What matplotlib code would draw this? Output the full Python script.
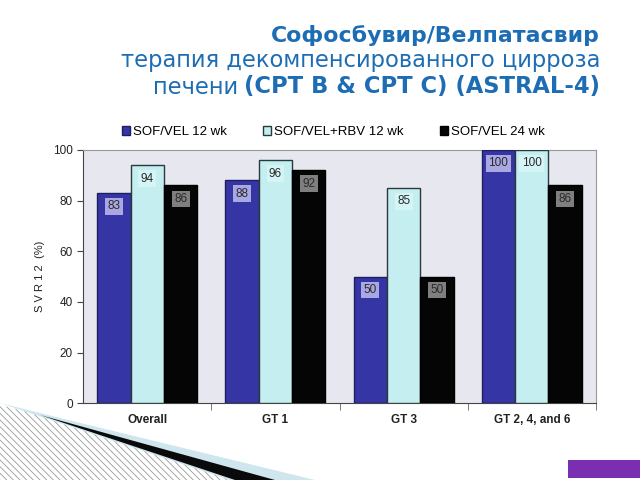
import matplotlib
matplotlib.use("Agg")
import matplotlib.pyplot as plt
import numpy as np
from matplotlib.patches import Polygon, Rectangle

categories = ["Overall", "GT 1", "GT 3", "GT 2, 4, and 6"]
series_names = ["SOF/VEL 12 wk", "SOF/VEL+RBV 12 wk", "SOF/VEL 24 wk"]
sof_vel_12 = [83, 88, 50, 100]
sof_vel_rbv_12 = [94, 96, 85, 100]
sof_vel_24 = [86, 92, 50, 86]
yticks = [0, 20, 40, 60, 80, 100]

series = [sof_vel_12, sof_vel_rbv_12, sof_vel_24]
colors = ["#3535a5", "#c4eef0", "#050505"]
edges = ["#1e1e60", "#2a3a3a", "#000000"]
box_colors = ["#aaa8e2", "#d4f4f5", "#7f7f7f"]

fig = plt.figure(figsize=(6.4, 4.8), dpi=100)

def fy(py):
    return 1 - py / 480.0

def fx(px):
    return px / 640.0

# decorations
plt.rcParams["hatch.color"] = "#9a9a9a"
plt.rcParams["hatch.linewidth"] = 0.6
fig.patches.append(Polygon([[fx(0), fy(405)], [fx(60), fy(420)], [fx(240), fy(480)], [fx(0), fy(480)]],
                           closed=True, transform=fig.transFigure, facecolor="white",
                           edgecolor="#9a9a9a", linewidth=0, hatch="\\\\\\\\\\", zorder=0))
fig.patches.append(Polygon([[fx(0), fy(403)], [fx(60), fy(418)], [fx(315), fy(480)], [fx(230), fy(480)]],
                           closed=True, transform=fig.transFigure, facecolor="#cfe6ee",
                           edgecolor="none", zorder=1))
fig.patches.append(Polygon([[fx(40), fy(415)], [fx(275), fy(480)], [fx(235), fy(480)]],
                           closed=True, transform=fig.transFigure, facecolor="#0a0a0a",
                           edgecolor="none", zorder=2))
fig.patches.append(Rectangle((fx(568), fy(478)), fx(72), 18 / 480.0, transform=fig.transFigure,
                             facecolor="#7a2fb0", edgecolor="none", zorder=2))

ax = fig.add_axes([0.130, 0.160, 0.801, 0.5275])
ax.set_facecolor("#e7e8ef")

x = np.arange(len(categories))
w = 0.26
for i, (vals, c, ec, bc) in enumerate(zip(series, colors, edges, box_colors)):
    pos = x + (i - 1) * w
    ax.bar(pos, vals, width=w, color=c, edgecolor=ec, linewidth=1.0,
           label=series_names[i], zorder=3)
    for p, v in zip(pos, vals):
        ax.text(p, v - 5.3, f"{v}", ha="center", va="center", fontsize=8.5,
                family="Liberation Sans", color="#2a2a2a", zorder=5,
                bbox=dict(boxstyle="square,pad=0.2", facecolor=bc, edgecolor="none"))

ax.set_xlim(-0.5, 3.5)
ax.set_ylim(0, 100)
ax.set_yticks(yticks)
ax.set_yticklabels([str(t) for t in yticks], family="Liberation Sans", fontsize=8.5, color="#222222")
ax.set_xticks(x)
ax.set_xticklabels(categories, family="Liberation Sans", fontsize=8.5, fontweight="bold", color="#222222")
ax.tick_params(axis="x", length=0, pad=8)
ax.set_xticks([0.5, 1.5, 2.5, 3.5], minor=True)
ax.tick_params(axis="x", which="minor", length=5, color="#666666")
ax.tick_params(axis="y", length=4, color="#444444")
for s in ["top", "right"]:
    ax.spines[s].set_color("#999999")
    ax.spines[s].set_linewidth(0.8)
ax.spines["left"].set_color("#444444")
ax.spines["bottom"].set_color("#444444")
ax.set_ylabel("S V R 1 2  (%)", family="Liberation Sans", fontsize=8, color="#222222", labelpad=6)

leg = ax.legend(loc="lower center", bbox_to_anchor=(0.488, 1.0), ncol=3, frameon=False,
                prop={"family": "Liberation Sans", "size": 9.5}, handlelength=0.6,
                handleheight=0.6, handletextpad=0.2, columnspacing=2.8)

title_color = "#1d6db4"
renderer = fig.canvas.get_renderer()

right = fx(600)
fig.text(right, fy(35), "Софосбувир/Велпатасвир", ha="right", va="center", color=title_color,
         fontsize=15.8, family="DejaVu Sans", fontweight="bold")
fig.text(right, fy(61), "терапия декомпенсированного цирроза", ha="right", va="center",
         color=title_color, fontsize=16.3, family="DejaVu Sans")
tb = fig.text(right, fy(87), "(CPT B & CPT C) (ASTRAL-4)", ha="right", va="center",
              color=title_color, fontsize=16.3, family="DejaVu Sans", fontweight="bold")
bb = tb.get_window_extent(renderer)
fig.text((bb.x0 - 6) / 640.0, fy(87), "печени", ha="right", va="center",
         color=title_color, fontsize=16.3, family="DejaVu Sans")

fig.savefig("out.png", dpi=100)
